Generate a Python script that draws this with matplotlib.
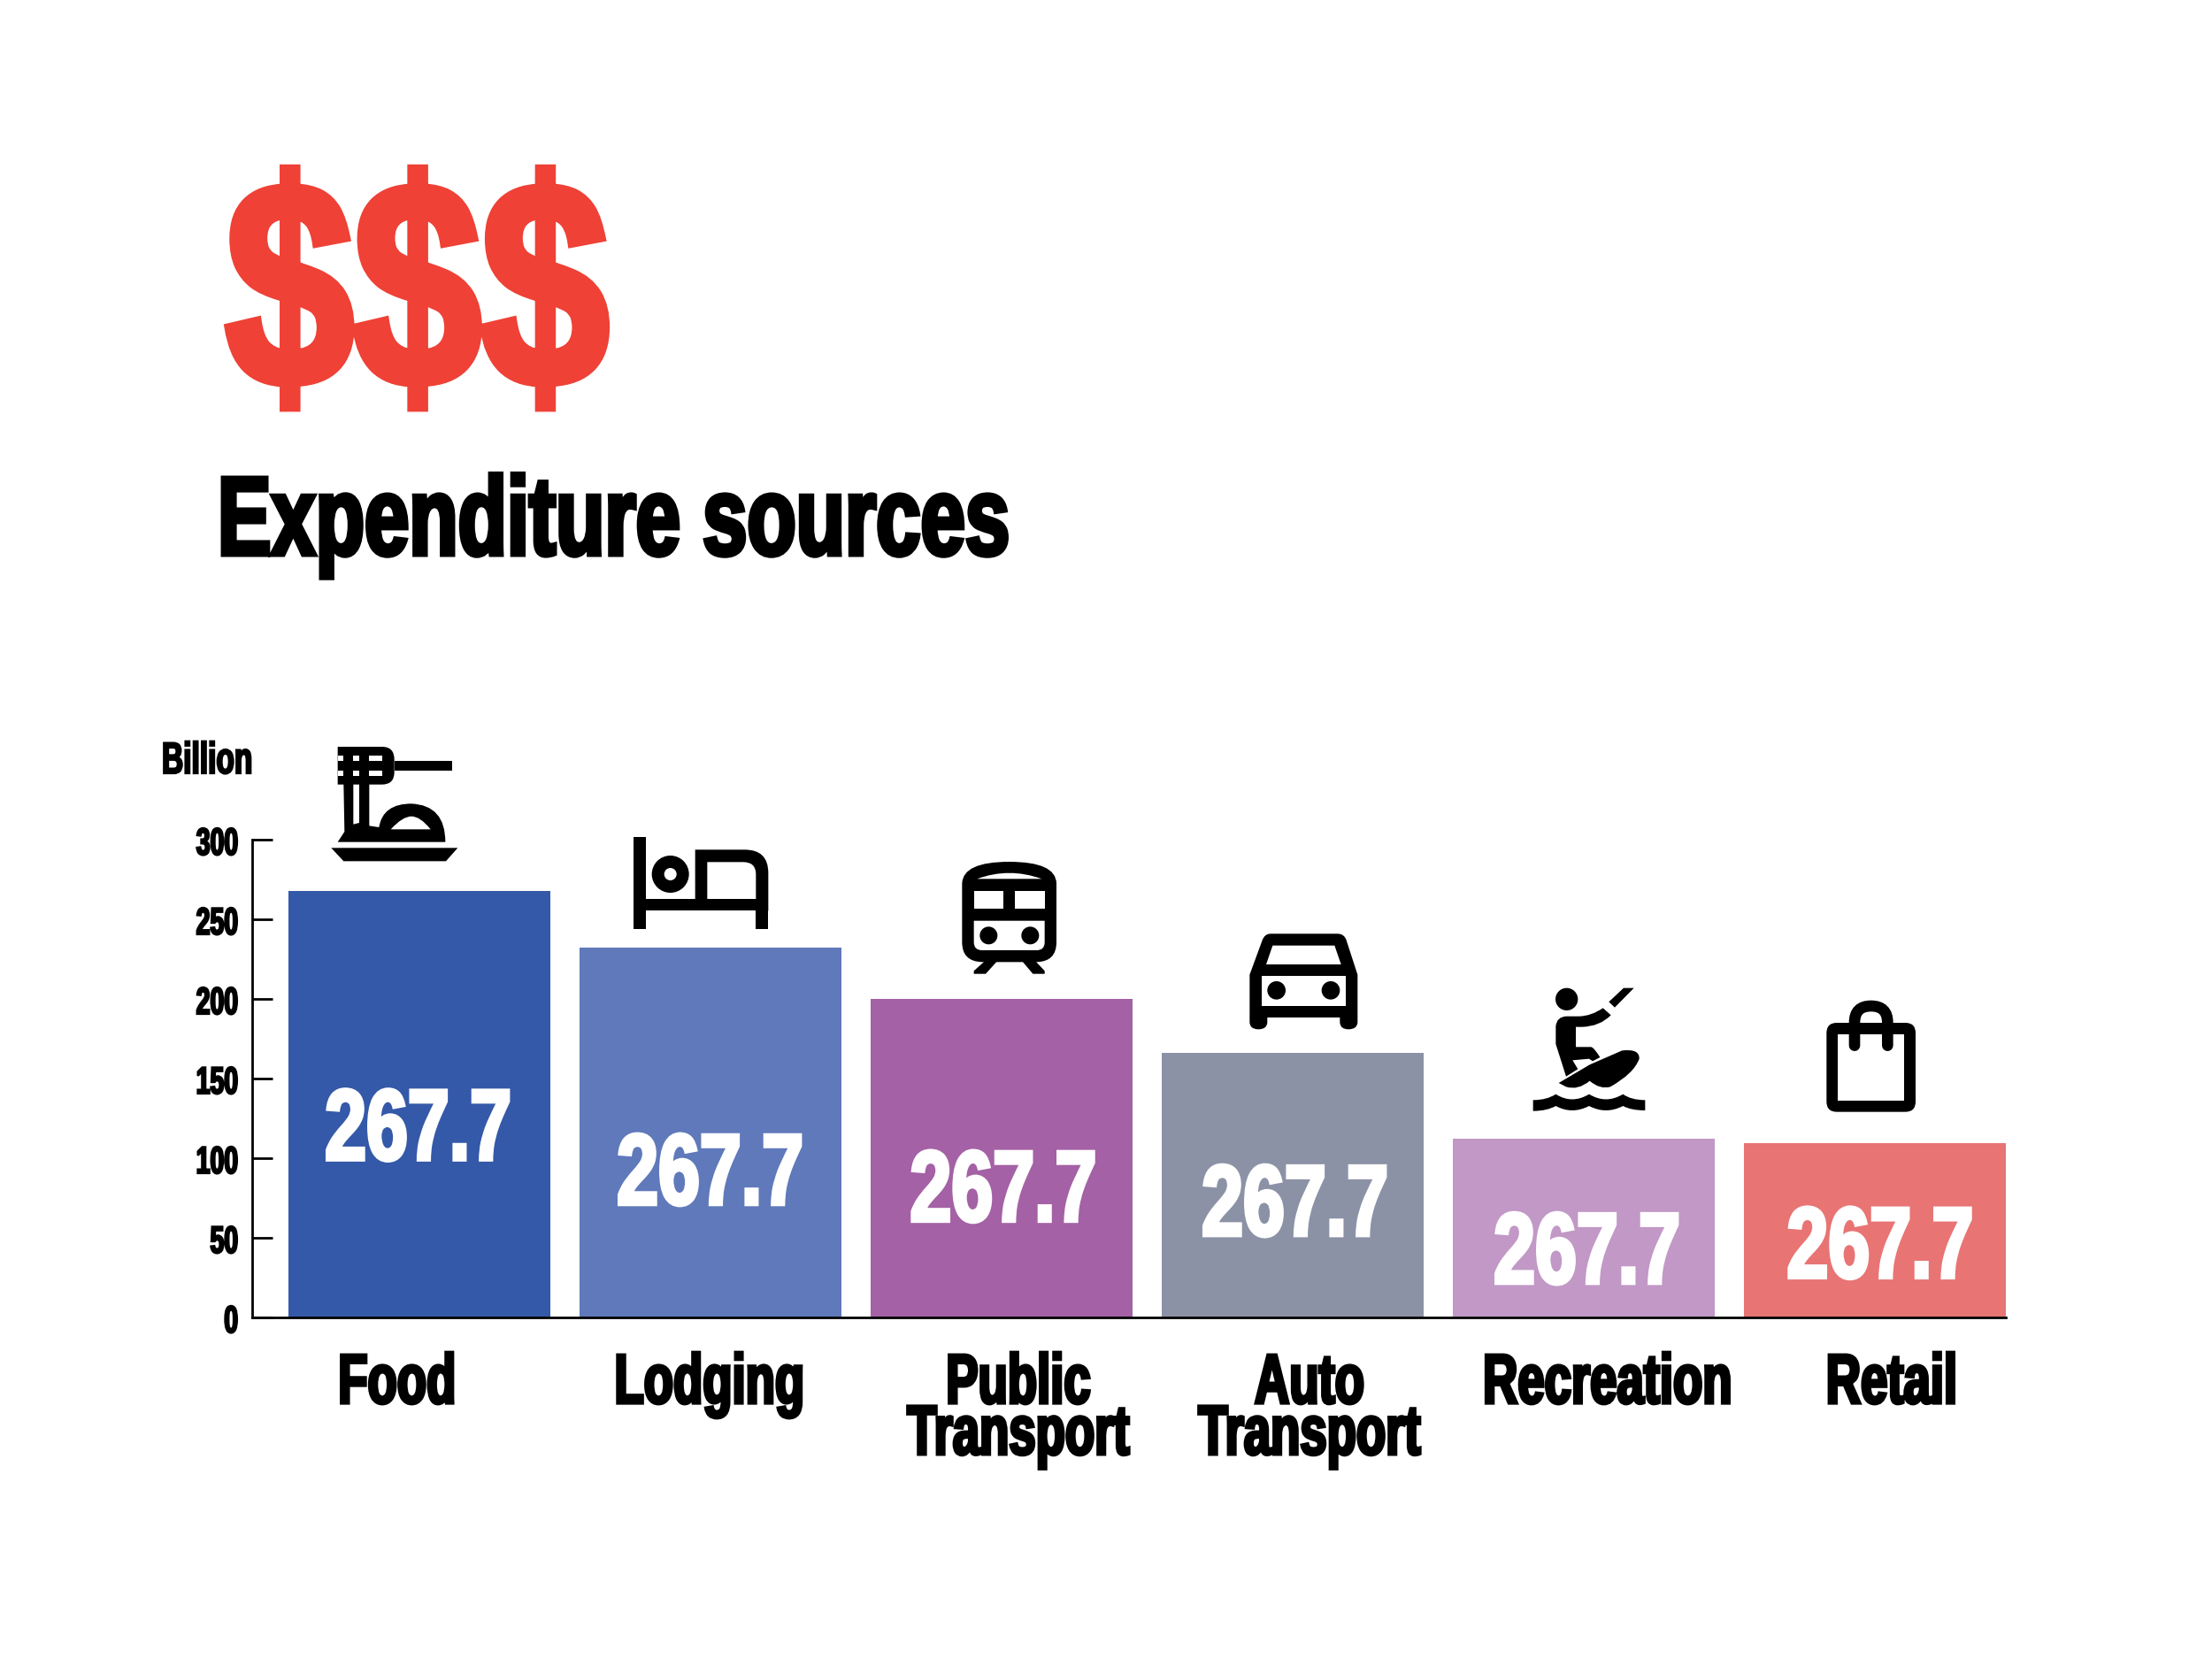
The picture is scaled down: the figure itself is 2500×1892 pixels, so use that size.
import matplotlib
matplotlib.use("Agg")
import matplotlib.pyplot as plt
from matplotlib.patches import PathPatch, Circle
from matplotlib.path import Path
from matplotlib.patheffects import AbstractPathEffect
from matplotlib.transforms import Affine2D

categories = ["Food", "Lodging", "Public\nTransport", "Auto\nTransport", "Recreation", "Retail"]
values = [267.7, 232, 200, 166, 112, 109.5]
value_labels = ["267.7"] * 6
label_baseline_values = [99, 71, 60.5, 51.5, 21.5, 25]
label_x_offsets = [-0.005, -0.002, 0.005, 0.007, 0.01, 0.017]
category_label_offsets = [-0.077, -0.004, 0.057, 0.057, 0.081, 0.057]
bar_colors = ["#3459A8", "#5F79BA", "#A461A5", "#8C92A6", "#C198C6", "#E87474"]
y_ticks = [0, 50, 100, 150, 200, 250, 300]
FONT = "Liberation Sans"


class Squeeze(AbstractPathEffect):
    """Reshape and embolden a text's glyphs around its anchor point (condensed display look)."""
    def __init__(self, text, sx, lw, dy=0, sy=1):
        super().__init__()
        self.text, self.sx, self.lw, self.dy, self.sy = text, sx, lw, dy, sy

    def draw_path(self, renderer, gc, tpath, affine, rgbFace=None):
        cx = self.text.get_transform().transform(self.text.get_position())[0]
        a = (Affine2D().scale(1, self.sy) + affine
             + Affine2D().translate(-cx, 0).scale(self.sx, 1).translate(cx, self.dy))
        g = renderer.new_gc()
        g.copy_properties(gc)
        g.set_linewidth(self.lw)
        g.set_foreground(rgbFace)
        g.set_joinstyle("miter")
        renderer.draw_path(g, tpath, a, rgbFace)
        g.restore()


def condense(t, sx, lw, dy=0, sy=1):
    t.set_path_effects([Squeeze(t, sx, lw, dy, sy)])
    return t


W, H = 2500, 1892
fig = plt.figure(figsize=(W / 100, H / 100), dpi=100, facecolor="white")
L, R, T, B = 285, 2267, 949, 1489
ax = fig.add_axes([L / W, 1 - B / H, (R - L) / W, (B - T) / H])
ax.patch.set_alpha(0)

xs = list(range(len(categories)))
ax.bar(xs, values, width=0.9, color=bar_colors, zorder=2)
ax.set_xlim(-0.575, 5.449)
ax.set_ylim(0, 300)
for s in ("top", "right"):
    ax.spines[s].set_visible(False)
for s in ("left", "bottom"):
    ax.spines[s].set_linewidth(2.0)
ax.set_yticks(y_ticks)
ax.set_yticklabels([str(v) for v in y_ticks], family=FONT, weight="bold", fontsize=31, va="center")
ax.tick_params(axis="y", direction="in", length=16.6, width=2.0, pad=11.5)
ax.set_xticks([x + o for x, o in zip(xs, category_label_offsets)])
ax.set_xticklabels(categories, family=FONT, weight="bold", fontsize=45.6, linespacing=0.975,
                   ha="center", va="top", multialignment="center")
ax.tick_params(axis="x", length=0, pad=36.6)
for t in ax.get_yticklabels():
    condense(t, 0.66, 1.6, dy=-6)
for t in ax.get_xticklabels():
    condense(t, 0.86, 2.6, sy=1.25)

for x, dx, yb, s in zip(xs, label_x_offsets, label_baseline_values, value_labels):
    condense(ax.text(x + dx, yb, s, ha="center", va="baseline", color="white", family=FONT,
                     weight="bold", fontsize=82, zorder=3), 0.74, 3.0)

condense(fig.text(246 / W, 1 - 627 / H, "Expenditure sources", ha="left", va="baseline",
                  family=FONT, weight="bold", fontsize=91, color="black"), 0.716, 3.6)
condense(fig.text(183 / W, 1 - 874 / H, "Billion", ha="left", va="baseline",
                  family=FONT, weight="bold", fontsize=36, color="black"), 0.67, 1.6)
condense(fig.text(255 / W, 1 - 436 / H, "$$$", ha="left", va="baseline",
                  family=FONT, weight="bold", fontsize=238, color="#EF4136"), 0.785, 7)

# Icons, drawn on a pixel-coordinate overlay
ov = fig.add_axes([0, 0, 1, 1], zorder=5)
ov.set_xlim(0, W)
ov.set_ylim(H, 0)
ov.axis("off")


def P(d):
    toks = d.replace(",", " ").split()
    verts, codes, i = [], [], 0
    while i < len(toks):
        c = toks[i][0]
        if c == "Z":
            verts.append(verts[-1]); codes.append(Path.CLOSEPOLY); i += 1
            continue
        nums = [toks[i][1:]] + toks[i + 1:]
        if c == "Q":
            a = [float(v) for v in nums[:4]]
            verts += [(a[0], a[1]), (a[2], a[3])]
            codes += [Path.CURVE3, Path.CURVE3]
            i += 4
        else:
            a = [float(v) for v in nums[:2]]
            verts.append((a[0], a[1]))
            codes.append(Path.MOVETO if c == "M" else Path.LINETO)
            i += 2
    return Path(verts, codes)


def icon(x0, y0, black=(), white=(), dots=()):
    tr = Affine2D().scale(1 / 3).translate(x0, y0) + ov.transData
    for d in black:
        ov.add_patch(PathPatch(P(d), fc="black", ec="none", transform=tr))
    for d in white:
        ov.add_patch(PathPatch(P(d), fc="white", ec="none", transform=tr))
    for cx, cy, r, col in dots:
        ov.add_patch(Circle((cx, cy), r, fc=col, ec="none", transform=tr))
    return tr


def box(a, b, c, d):
    return f"M{a} {b} L{c} {b} L{c} {d} L{a} {d} Z"


# Food
icon(360, 830,
     black=["M65 42 L215 42 Q257 42 257 85 L257 128 Q257 170 215 170 L172 170 L172 310 L205 315 "
            "Q218 235 315 235 Q430 240 430 365 L65 365 L88 330 L85 170 L65 170 Z",
            box(257, 90, 452, 122),
            "M43 385 L472 385 L432 430 L85 430 Z"],
     white=[box(65, 72, 85, 90), box(65, 122, 85, 140), box(118, 72, 138, 90), box(118, 122, 138, 140),
            box(172, 72, 215, 90), box(172, 122, 215, 140), "M118 170 L138 170 L138 300 L118 305 Z",
            "M245 322 Q285 278 315 278 Q345 278 380 322 Z"])
# Bed
icon(700, 930,
     black=[box(48, 48, 90, 360), box(90, 258, 505, 298), box(463, 298, 505, 360),
            "M257 91 L425 91 Q505 91 505 170 L505 298 L463 298 L463 175 Q463 133 420 133 L298 133 L298 258 L257 258 Z"],
     dots=[(173, 174, 63, "black"), (173, 174, 21, "white")])
# Train
icon(1070, 960,
     black=["M52 115 Q55 42 212 42 Q370 42 372 115 L372 315 Q372 380 305 382 L120 382 Q52 380 52 315 Z",
            "M130 378 L172 378 L132 422 L92 422 L92 412 Z", "M255 378 L300 378 L332 412 L332 422 L292 422 Z"],
     white=["M103 100 Q212 60 322 100 Z", box(92, 142, 192, 200), box(232, 142, 332, 200),
            "M92 242 L332 242 L332 315 Q332 342 305 342 L120 342 Q92 342 92 315 Z"],
     dots=[(142, 292, 30, "black"), (283, 292, 30, "black")])
# Car
icon(1400, 1040,
     black=["M37 185 L80 68 Q88 46 108 46 L335 46 Q358 46 365 68 L403 185 L403 345 Q403 370 372 370 "
            "Q343 370 343 345 L343 330 L97 330 L97 345 Q97 370 67 370 Q37 370 37 345 Z"],
     white=["M115 86 L325 86 L347 150 L93 150 Z", box(77, 190, 362, 290)],
     dots=[(128, 238, 31, "black"), (312, 238, 31, "black")])
# Kiteboarder
icon(1720, 1100,
     black=["M345 50 L380 50 L315 116 L295 97 Z",
            "M115 180 Q118 148 150 146 L195 146 Q235 145 275 118 L302 142 Q265 180 205 182 L183 182 L183 250 "
            "L235 250 Q245 252 265 285 L240 298 L228 290 L172 295 L190 325 L150 350 L115 240 Z",
            "M125 372 L230 310 L340 262 Q400 255 398 290 Q380 340 300 385 Q265 395 230 365 Q190 398 150 385 Z",
            "M38 430 Q85 430 115 410 Q170 445 228 410 Q285 445 343 410 Q370 430 418 430 L418 465 "
            "Q370 465 343 450 Q285 480 228 450 Q170 480 115 450 Q85 467 38 467 Z"],
     dots=[(152, 88, 38, "black")])
# Bag
tr = icon(2050, 1120,
          black=["M78 108 L310 108 Q345 108 345 143 L345 375 Q345 410 310 410 L78 410 Q43 410 43 375 L43 143 Q43 108 78 108 Z"],
          white=[box(82, 146, 307, 372)])
ov.add_patch(PathPatch(P("M138 185 L138 107 Q138 51 194 51 Q250 51 250 107 L250 185"), fc="none", ec="black",
                       lw=9.1, capstyle="round", transform=tr))

fig.savefig("out.png", dpi=100, facecolor="white")
